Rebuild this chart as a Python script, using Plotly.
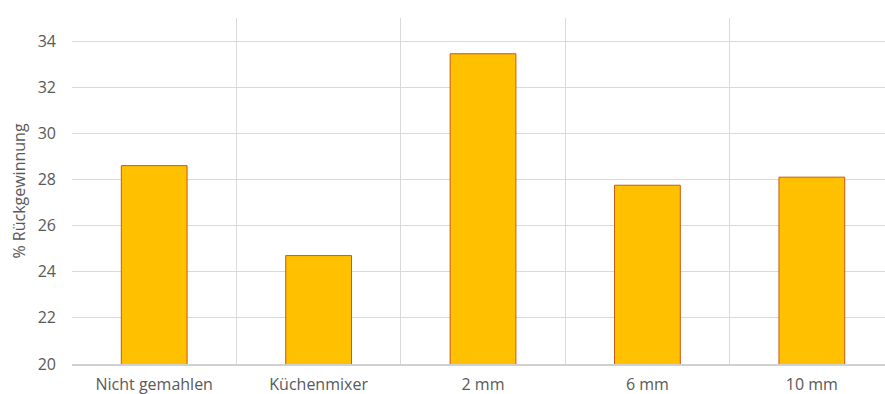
import plotly.graph_objects as go

categories = ["Nicht gemahlen", "Küchenmixer", "2 mm", "6 mm", "10 mm"]
values = [28.6, 24.7, 33.45, 27.75, 28.1]
y_ticks = [20, 22, 24, 26, 28, 30, 32, 34]

fig = go.Figure()
fig.add_trace(go.Bar(
    x=categories, y=values, width=0.4,
    marker=dict(color="#FFC000", line=dict(color="#C55A11", width=1)),
))

font_family = "Open Sans, Liberation Sans, sans-serif"
fig.update_layout(
    width=885, height=394,
    margin=dict(l=72, r=0, t=18, b=30),
    plot_bgcolor="white", paper_bgcolor="white",
    showlegend=False,
    font=dict(family=font_family, size=16, color="#595959"),
    xaxis=dict(
        type="category", tickson="boundaries",
        range=[-0.5, 4.445],
        showgrid=True, gridcolor="#D9D9D9", gridwidth=1,
        showline=True, linecolor="#D0D0D0", linewidth=1.5,
        ticks="", ticklabelstandoff=5,
        tickfont=dict(size=16, color="#595959"),
    ),
    yaxis=dict(
        range=[20, 35], tickvals=y_ticks,
        showgrid=True, gridcolor="#D9D9D9", gridwidth=1,
        showline=False, zeroline=False,
        ticks="", ticklabelstandoff=15,
        tickfont=dict(size=16, color="#595959"),
        title=dict(text="% Rückgewinnung", font=dict(size=16, color="#595959"), standoff=8),
    ),
)

fig.write_html("out.html")
